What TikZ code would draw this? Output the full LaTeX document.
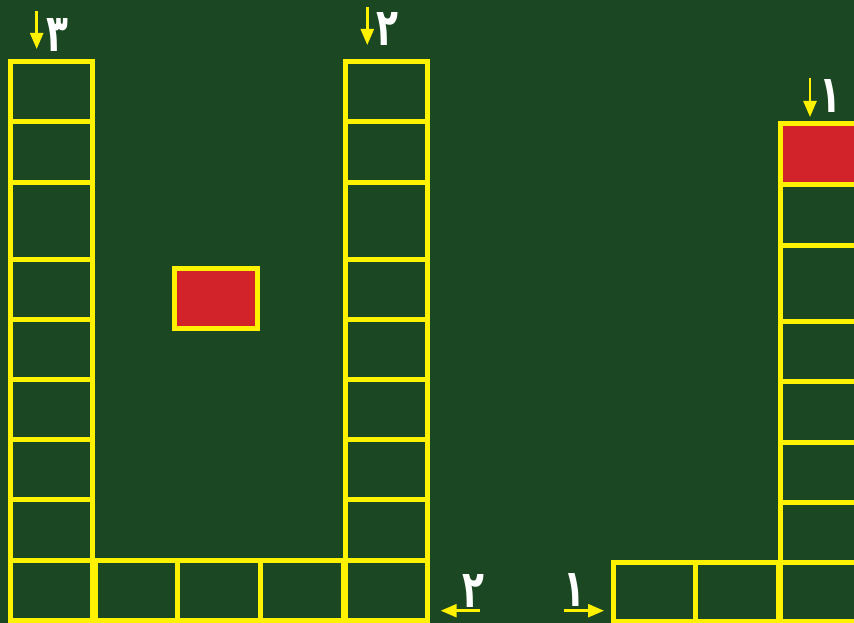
\documentclass[tikz,border=0pt]{standalone}
\usepackage{fontspec}
\newfontfamily\digitfont[Script=Arabic]{DejaVu Sans}
\TeXXeTstate=1
\usetikzlibrary{arrows.meta}
\definecolor{board}{RGB}{27,71,34}
\definecolor{frame}{RGB}{255,242,0}
\definecolor{brick}{RGB}{210,35,42}
\newcommand{\tallDigit}[1]{\scalebox{0.78}[1.13]{\beginR #1\endR}}
\tikzset{
  cell/.style={draw=frame, line width=5pt},
  pointer/.style={draw=frame, line width=2.5pt, -{Triangle[length=16pt, width=13pt]}},
  digit/.style={text=white, font=\digitfont\bfseries\fontsize{46}{46}\selectfont, inner sep=0pt, anchor=base},
}
\begin{document}
\begin{tikzpicture}[x=1pt, y=-1pt]
  \fill[board] (0,0) rectangle (854,623);
  \useasboundingbox (0,0) rectangle (854,623);
  \clip (0,0) rectangle (854,623);
  % left and middle columns
  \foreach \top/\bot in {62/122, 122/182, 182/259, 259/319, 319/379, 379/439, 439/499.5, 499.5/560, 560/620} {
    \draw[cell] (10.5,\top) rectangle (92.7,\bot);
    \draw[cell] (345,\top) rectangle (427,\bot);
  }
  % bottom row between the columns
  \foreach \l/\r in {95/177.5, 177.5/260, 260/343}
    \draw[cell] (\l,560) rectangle (\r,620);
  \draw[cell, fill=brick] (174.5,268) rectangle (257.5,328);
  % right column
  \draw[cell, fill=brick] (780,124) rectangle (862,184.5);
  \foreach \top/\bot in {184.5/245, 245/321, 321/381.5, 381.5/442, 442/502, 502/562, 562/621}
    \draw[cell] (780,\top) rectangle (862,\bot);
  \foreach \l/\r in {613/695, 695/778}
    \draw[cell] (\l,562) rectangle (\r,621);
  % arrows and labels
  \coordinate (threeS) at (36.7,11);
  \coordinate (threeE) at (36.7,49);
  \coordinate (twoS) at (367.3,7);
  \coordinate (twoE) at (367.3,45);
  \coordinate (oneS) at (810,78);
  \coordinate (oneE) at (810,117);
  \coordinate (leftS) at (480,610.7);
  \coordinate (leftE) at (440.7,610.7);
  \coordinate (rightS) at (564.3,610.7);
  \coordinate (rightE) at (604,610.7);
  \draw[pointer] (threeS) -- (threeE);
  \draw[pointer] (twoS) -- (twoE);
  \draw[pointer] (oneS) -- (oneE);
  \draw[pointer] (leftS) -- (leftE);
  \draw[pointer] (rightS) -- (rightE);
  \node[digit] (threeLabel) at (57,52) {\tallDigit{٣}};
  \node[digit] (twoLabel) at (387.7,46) {\tallDigit{٢}};
  \node[digit] (oneLabel) at (830.7,113) {\tallDigit{١}};
  \node[digit] (leftLabel) at (473,607) {\tallDigit{٢}};
  \node[digit] (rightLabel) at (574,606) {\tallDigit{١}};
\end{tikzpicture}
\end{document}
